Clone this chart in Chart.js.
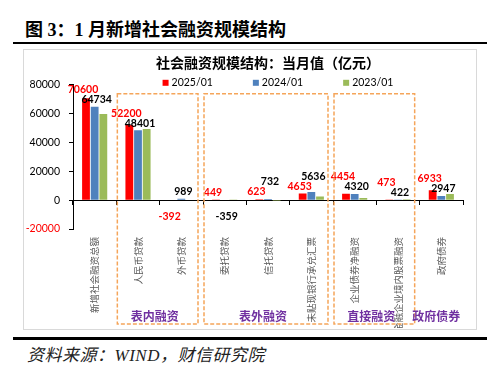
<!DOCTYPE html>
<html>
<head>
<meta charset="utf-8">
<script src="https://cdn.jsdelivr.net/npm/chart.js@4.4.1/dist/chart.umd.min.js"></script>
<style>
  body { margin: 0; background: #fff; width: 500px; height: 369px; position: relative; overflow: hidden; }
  .fig-title { position: absolute; left: 25px; top: 15px; line-height: 20px; font: bold 18px "Liberation Serif", "Noto Sans CJK SC", serif; color: #000; white-space: nowrap; }
  .rule { position: absolute; left: 13px; width: 474px; background: #000; }
  .frame { position: absolute; left: 23px; top: 49px; width: 452px; height: 279px; border: 1px solid #d9d9d9; }
  .chart-box { position: absolute; left: 24px; top: 50px; width: 451px; height: 278px; }
  .source { position: absolute; left: 27px; top: 341px; line-height: 20px; font: italic 17px "Liberation Serif", "Noto Sans CJK SC", serif; letter-spacing: 0.5px; color: #222; white-space: nowrap; }
</style>
</head>
<body>
<div class="fig-title">图 3：1 月新增社会融资规模结构</div>
<div class="rule" style="top:42px;height:2px"></div>
<div class="frame"></div>
<div class="chart-box"><canvas id="sfChart"></canvas></div>
<div class="rule" style="top:337px;height:3px"></div>
<div class="source">资料来源：WIND，财信研究院</div>
<script>
const categories = ["新增社会融资总额", "人民币贷款", "外币贷款", "委托贷款", "信托贷款",
    "未贴现银行承兑汇票", "企业债券净融资", "非金融企业境内股票融资", "政府债券"];
const seriesNames = ["2025/01", "2024/01", "2023/01"];
const values2025 = [70600, 52200, -392, 449, 623, 4653, 4454, 473, 6933];
const values2024 = [64734, 48401, 989, -359, 732, 5636, 4320, 422, 2947];
const values2023 = [59800, 49400, 210, 40, -59, 2600, 1500, 700, 4300];
const yMin = -20000;
const yMax = 80000;
const yStep = 20000;
const groupNames = ["表内融资", "表外融资", "直接融资", "政府债券"];
const groupFirst = [1, 3, 6, 8];
const groupLast = [2, 5, 7, 8];
const groupBoxed = [true, true, true, false];

const barColors = ["#FF0000", "#4F81BD", "#9BBB59"];
const labelColors = ["#FF0000", "#000000"];
const labelShift = [-3, 2];

// value labels for 2025 and 2024; the taller bar's label steps up when two collide
const valueLabels = {
    id: "valueLabels",
    afterDatasetsDraw(chart) {
        const ctx = chart.ctx;
        const lh = 10;
        ctx.save();
        ctx.font = "bold 10.5px Lato";
        ctx.textAlign = "center";
        ctx.textBaseline = "bottom";
        categories.forEach((_, i) => {
            const items = [0, 1].map((di) => {
                const bar = chart.getDatasetMeta(di).data[i];
                const v = chart.data.datasets[di].data[i];
                return {
                    di,
                    v,
                    x: bar.x + labelShift[di],
                    w: ctx.measureText(String(v)).width,
                    bottom: v >= 0 ? bar.y - 2 : bar.y + 11 + lh,
                };
            });
            const [a, b] = items;
            const hitX = Math.abs(a.x - b.x) < (a.w + b.w) / 2;
            const hitY = Math.abs(a.bottom - b.bottom) < lh;
            if (hitX && hitY && a.v >= 0 && b.v >= 0) {
                const hi = a.bottom <= b.bottom ? a : b;
                const lo = hi === a ? b : a;
                hi.bottom = lo.bottom - lh;
            }
            items.forEach((it) => {
                ctx.fillStyle = labelColors[it.di];
                ctx.fillText(String(it.v), it.x, it.bottom);
            });
        });
        ctx.restore();
    },
};

// legend row sitting just above the plot
const topLegend = {
    id: "topLegend",
    afterDraw(chart) {
        const ctx = chart.ctx;
        const area = chart.chartArea;
        ctx.save();
        ctx.font = "10.5px Lato";
        ctx.textBaseline = "middle";
        ctx.textAlign = "left";
        const box = 6, gap = 3, spacing = 40;
        const items = chart.data.datasets.map((ds) => ({
            text: ds.label,
            color: ds.backgroundColor,
            w: box + gap + ctx.measureText(ds.label).width,
        }));
        const total = items.reduce((s, it) => s + it.w, 0) + spacing * (items.length - 1);
        let x = (area.left + area.right) / 2 + 10 - total / 2;
        const y = area.top - 2;
        items.forEach((it) => {
            ctx.fillStyle = it.color;
            ctx.fillRect(x, y - box / 2, box, box);
            ctx.fillStyle = "#000";
            ctx.fillText(it.text, x + box + gap, y);
            x += it.w + spacing;
        });
        ctx.restore();
    },
};

// dashed group frames and their names
const groupBoxes = {
    id: "groupBoxes",
    afterDraw(chart) {
        const ctx = chart.ctx;
        const xs = chart.scales.x;
        const area = chart.chartArea;
        const half = (xs.getPixelForValue(1) - xs.getPixelForValue(0)) / 2;
        const top = area.top + 9;
        const bottom = chart.height - 4;
        ctx.save();
        groupNames.forEach((name, g) => {
            const left = xs.getPixelForValue(groupFirst[g]) - half + 1;
            const right = xs.getPixelForValue(groupLast[g]) + half - 5;
            if (groupBoxed[g]) {
                ctx.strokeStyle = "#F5A55A";
                ctx.lineWidth = 1.5;
                ctx.setLineDash([4, 2]);
                ctx.strokeRect(left, top, right - left, bottom - top);
                ctx.setLineDash([]);
            }
            ctx.fillStyle = "#7030A0";
            ctx.font = "bold 12px 'Noto Sans CJK SC'";
            ctx.textAlign = "center";
            ctx.textBaseline = "middle";
            ctx.fillText(name, (left + right) / 2 - 3, bottom - 8);
        });
        ctx.restore();
    },
};

new Chart(document.getElementById("sfChart"), {
    type: "bar",
    data: {
        labels: categories,
        datasets: [
            { label: seriesNames[0], data: values2025, backgroundColor: barColors[0], xAxisID: "x" },
            { label: seriesNames[1], data: values2024, backgroundColor: barColors[1], xAxisID: "x" },
            { label: seriesNames[2], data: values2023, backgroundColor: barColors[2], xAxisID: "x" },
        ],
    },
    plugins: [valueLabels, topLegend, groupBoxes],
    options: {
        responsive: true,
        maintainAspectRatio: false,
        devicePixelRatio: 1,
        animation: false,
        layout: { padding: { left: 0, right: 12, top: 0, bottom: 0 } },
        datasets: { bar: { categoryPercentage: 0.6, barPercentage: 0.9 } },
        plugins: {
            legend: { display: false },
            tooltip: { enabled: false },
            title: {
                display: true,
                fullSize: false,
                text: "社会融资规模结构：当月值（亿元）",
                color: "#000",
                font: { family: "Noto Sans CJK SC", size: 14, weight: "bold" },
                padding: { top: 4, bottom: 14 },
            },
        },
        scales: {
            x: {
                type: "category",
                position: "bottom",
                offset: true,
                grid: { display: false, drawTicks: false },
                border: { display: false },
                ticks: {
                    autoSkip: false,
                    maxRotation: 90,
                    minRotation: 90,
                    padding: 8,
                    color: "#595959",
                    font: { family: "Noto Sans CJK SC", size: 9.5 },
                },
                afterFit: (scale) => { scale.height = 99; },
            },
            x0: {
                type: "category",
                axis: "x",
                position: { y: 0 },
                offset: true,
                z: 1,
                grid: { offset: true, drawOnChartArea: false, drawTicks: true, tickLength: 4, color: "#000" },
                border: { color: "#000", width: 1 },
                ticks: { display: false },
            },
            y: {
                min: yMin,
                max: yMax,
                grid: { drawOnChartArea: false, drawTicks: true, tickLength: 4, color: "#000" },
                border: { color: "#000", width: 1 },
                ticks: {
                    stepSize: yStep,
                    padding: 9,
                    callback: (v) => String(v),
                    color: (c) => (c.tick.value < 0 ? "#FF0000" : "#000"),
                    font: { family: "Lato", size: 10.5 },
                },
                afterFit: (scale) => { scale.width = 49; },
            },
        },
    },
});
</script>
</body>
</html>
